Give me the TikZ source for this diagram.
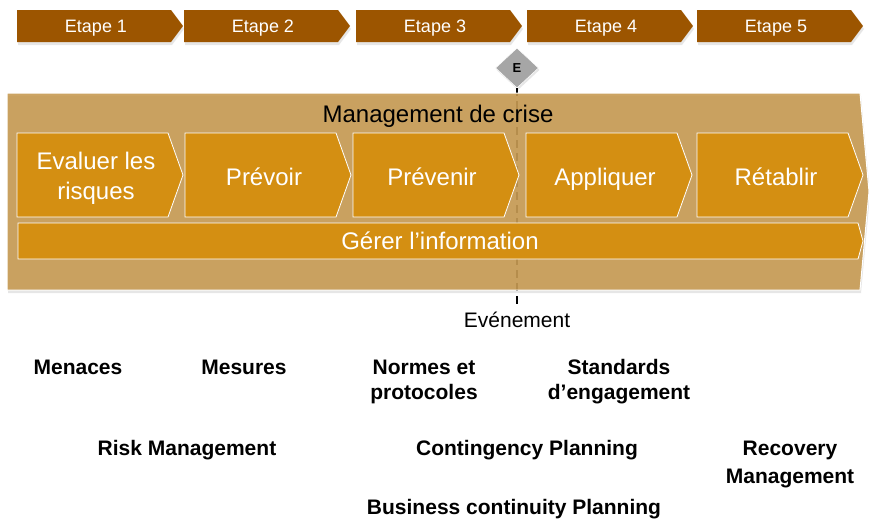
\documentclass[tikz,border=0pt]{standalone}
\usepackage{fontspec}
\setmainfont{Liberation Sans}
\usetikzlibrary{shapes.geometric,shadows,positioning}
\definecolor{etapebrown}{RGB}{156,85,0}
\definecolor{crisebeige}{RGB}{198,154,82}
\definecolor{phaseorange}{RGB}{212,143,18}
\definecolor{eventgray}{RGB}{166,166,166}
\tikzset{
    etape-arrow/.style = {fill=etapebrown, draw=none, drop shadow={shadow xshift=1pt, shadow yshift=-3pt, opacity=0.2}},
    etape-title/.style = {text=white, font=\fontsize{18}{21}\selectfont},
    crise-box/.style = {fill=crisebeige, fill opacity=0.9, draw=white, line width=1pt, drop shadow={shadow xshift=1pt, shadow yshift=-3pt, opacity=0.2}},
    crise-title/.style = {text=black, font=\fontsize{24}{28}\selectfont},
    phase-arrow/.style = {fill=phaseorange, draw=white, line width=0.8pt},
    phase-title/.style = {text=white, align=center, font=\fontsize{24}{30}\selectfont},
    event-diamond/.style = {diamond, fill=eventgray, draw=white, line width=0.5pt, minimum width=43pt, minimum height=40pt, inner sep=0pt, font=\bfseries\fontsize{13}{15}\selectfont, drop shadow={shadow xshift=1pt, shadow yshift=-2pt, opacity=0.2}},
    event-line/.style = {draw=black, line width=2pt, dash pattern=on 8pt off 5pt},
    event-label/.style = {inner sep=0pt, font=\fontsize{21}{25}\selectfont},
    key-label/.style = {align=center, font=\bfseries\fontsize{21}{25}\selectfont},
}
\begin{document}
\begin{tikzpicture}[x=1pt, y=-1pt]
\useasboundingbox (0,0) rectangle (869,522);

\foreach \i/\x in {1/17,2/184,3/356,4/527,5/697}{
    \draw[etape-arrow] (\x,10) -- ++(154,0) -- ++(12,16) -- ++(-12,16) -- ++(-154,0) -- cycle;
    \node[etape-title] (etape\i) at ({\x+79},28.5) {Etape \i};
}

\node[event-diamond] (E) at (517,68) {E};
\coordinate (evtend) at (517,304);
\draw[event-line] (E.south) -- (evtend);
\node[event-label, below=8pt of evtend] (evt) {Evénement};

\draw[crise-box] (7,93) -- (860,93) -- (869,191.5) -- (860,290) -- (7,290) -- cycle;
\node[crise-title] (crise) at (438,116) {Management de crise};

\foreach \x/\y/\nm/\lab in {17/178.5/evaluer/{Evaluer les\\risques}, 185/177/prevoir/Prévoir, 353/177/prevenir/Prévenir, 526/179.5/appliquer/Appliquer, 697/177/retablir/Rétablir}{
    \draw[phase-arrow] (\x,133) -- ++(151,0) -- ++(15,42) -- ++(-15,42) -- ++(-151,0) -- cycle;
    \node[phase-title] (\nm) at ({\x+79},\y) {\lab};
}
\draw[phase-arrow] (18,223) -- (858,223) -- (863,241) -- (858,259) -- (18,259) -- cycle;
\node[phase-title] (info) at (440,241) {Gérer l’information};

\node[key-label] (menaces) at (78,367) {Menaces};
\node[key-label] (mesures) at (244,367) {Mesures};
\node[key-label] (normes) at (424,382) {Normes et\\protocoles};
\node[key-label] (standards) at (619,382) {Standards\\d’engagement};
\node[key-label] (risk) at (187,450) {Risk Management};
\node[key-label] (contingency) at (527,450) {Contingency Planning};
\node[key-label, font=\bfseries\fontsize{21}{28}\selectfont] (recovery) at (790,464) {Recovery\\Management};
\node[key-label] (business) at (514,509) {Business continuity Planning};
\end{tikzpicture}
\end{document}
